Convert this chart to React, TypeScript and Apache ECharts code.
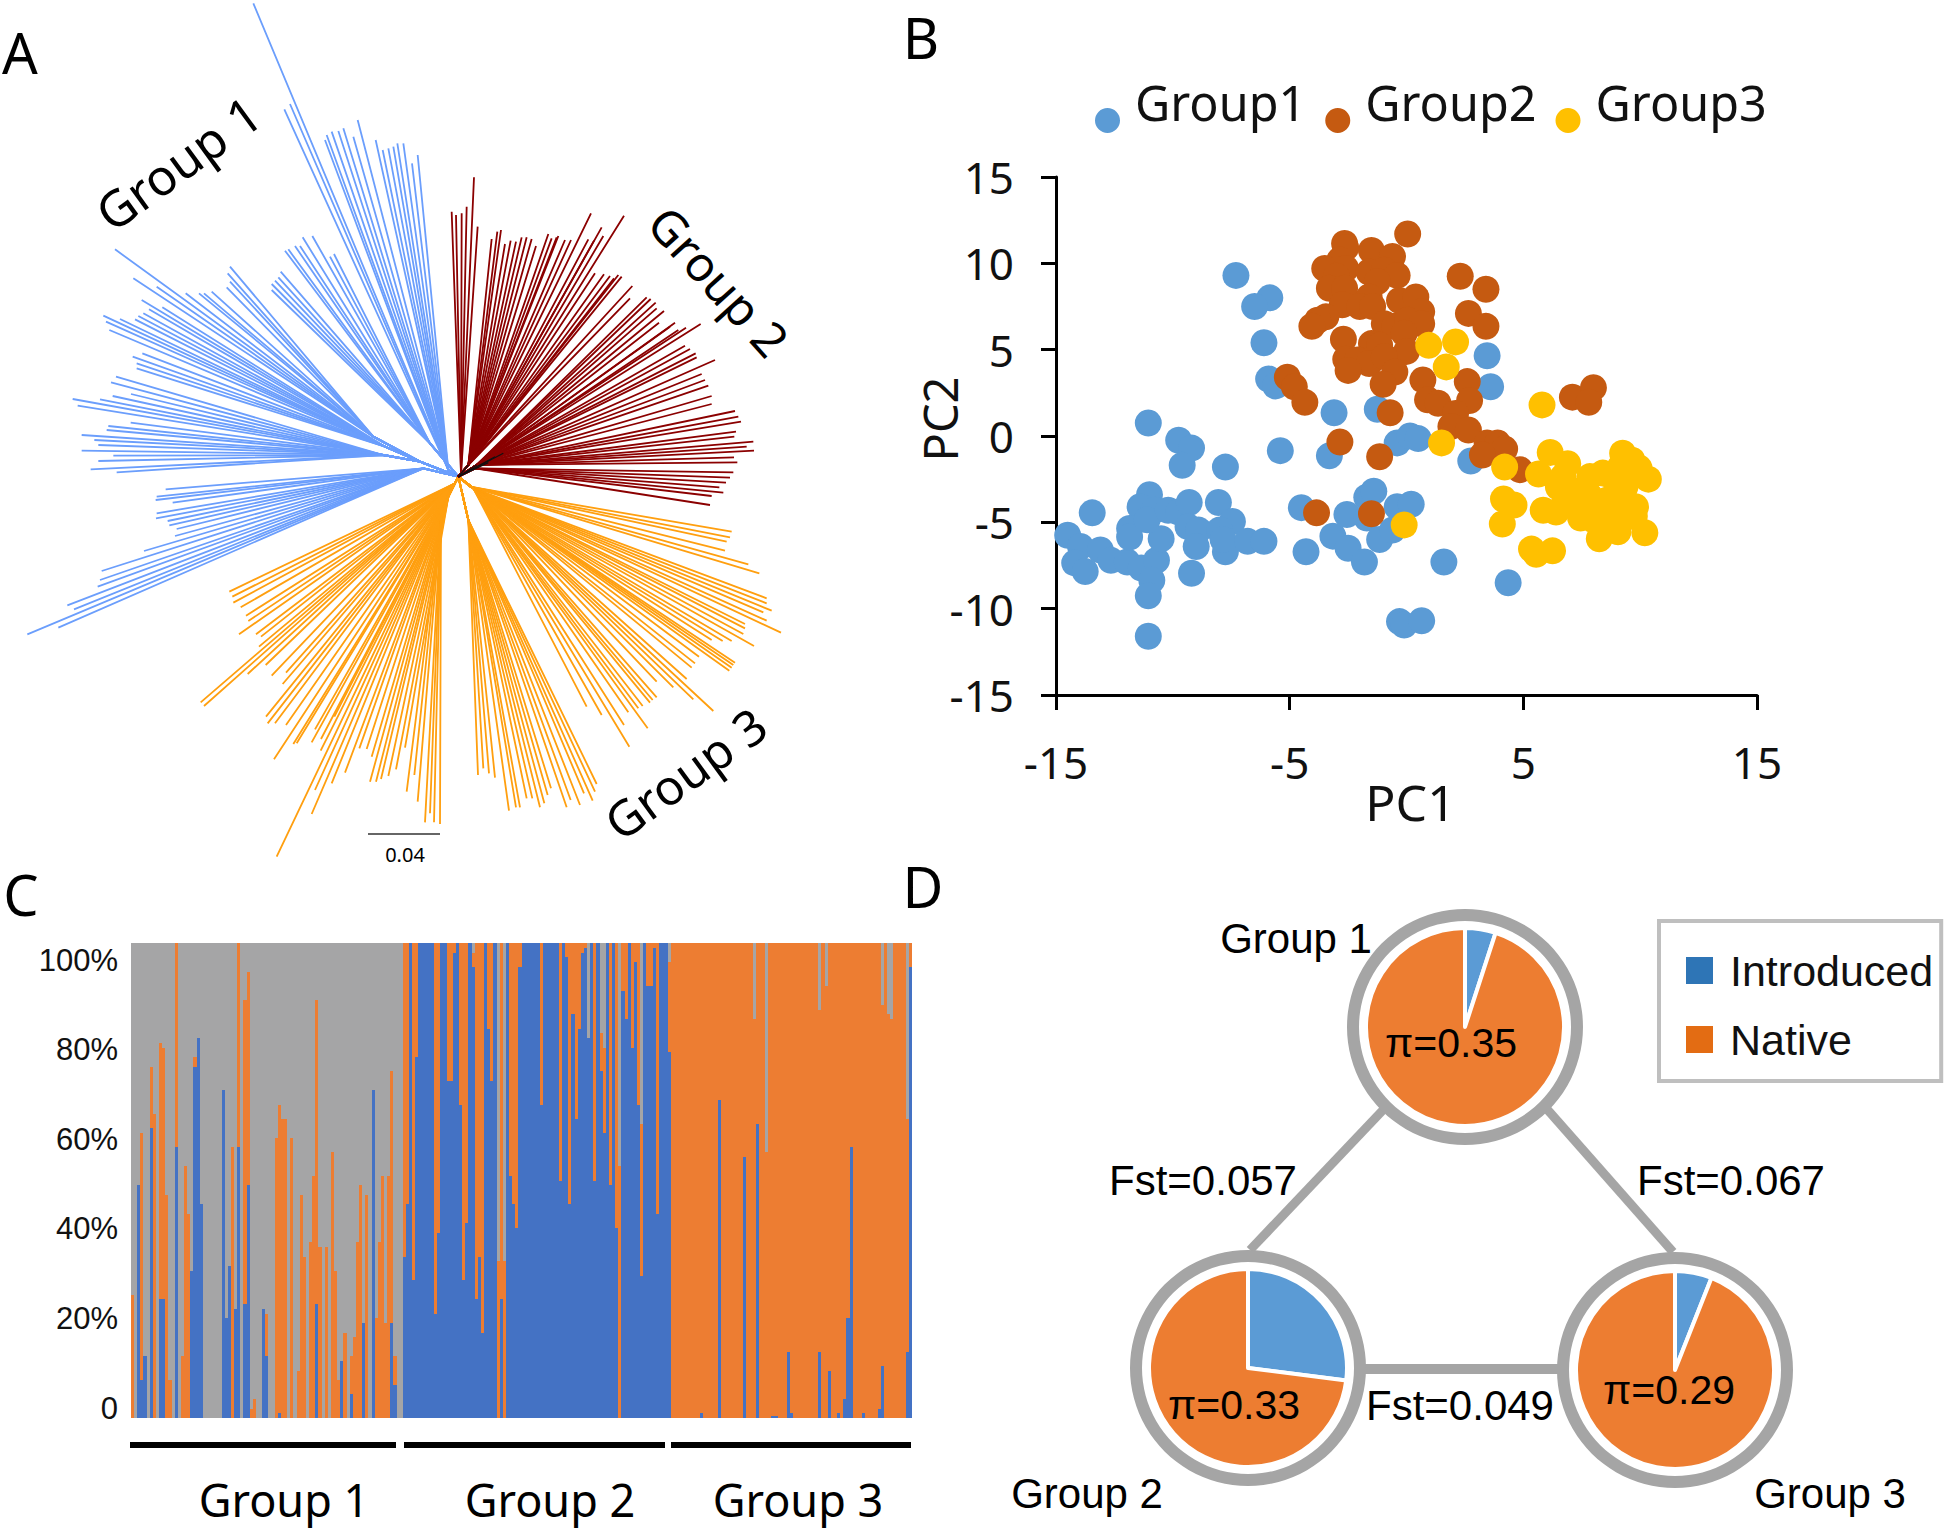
import React, { useEffect, useRef } from "react";
import * as echarts from "echarts";

// ---------- Panel A: unrooted tree. Coordinates are tree-layout units from the root (216 units = 0.04 branch length)
const treeRoot = [0, 0];
const group1Clades = [
  { path: [[-30, -20]], tips: [[-615,-1420],[-505,-1118],[-522,-1102],[-400,-1010],[-395,-1025],[-380,-1035],[-360,-1037],[-345,-1045],[-315,-1020],[-302,-1070],[-248,-1010],[-227,-980],[-210,-985],[-195,-990],[-183,-1000],[-165,-1000],[-139,-940],[-122,-965]] },
  { path: [[-115,-45],[-255,-120]], tips: [[-1030,-682],[-975,-595],[-905,-570],[-818,-550],[-778,-550],[-763,-550],[-740,-555],[-685,-630],[-692,-610],[-685,-585],[-695,-568]] },
  { path: [[-85,-100]], tips: [[-520,-678],[-510,-682],[-490,-692],[-475,-692],[-467,-718],[-438,-722],[-385,-660],[-373,-668],[-533,-615],[-540,-598],[-550,-588],[-560,-578],[-560,-560]] },
  { path: [[-115,-45],[-220,-90]], tips: [[-950,-530],[-1065,-483],[-1057,-465],[-1015,-473],[-1047,-440],[-970,-472],[-960,-482],[-945,-490],[-928,-502],[-888,-508],[-977,-360],[-948,-370],[-965,-340],[-965,-325]] },
  { path: [[-115,-45],[-225,-65]], tips: [[-1027,-300],[-1042,-283],[-1157,-233],[-1142,-213],[-1075,-232],[-1037,-242],[-982,-248],[-1050,-152],[-1055,-140],[-983,-162],[-1130,-125],[-1092,-110],[-1080,-95],[-1130,-78],[-1035,-63],[-1080,-47],[-1103,-22],[-1025,-13]] },
  { path: [[-105,-25]], tips: [[-878,38],[-908,70],[-905,60],[-857,78],[-905,110],[-907,125],[-872,133],[-867,146],[-845,157],[-850,178],[-943,223],[-1070,283],[-1075,310],[-1082,330],[-1173,386],[-1153,398],[-1293,473],[-1200,453]] },
];
const group2Clades = [
  { path: [[8, -10]], tips: [[-20,-795],[-7,-785],[10,-790],[25,-810],[47,-898],[58,-750]] },
  { path: [[30, -35]], tips: [[100,-713],[117,-735],[128,-740],[140,-698],[157,-708],[173,-705],[190,-718],[205,-718],[220,-713],[233,-692],[270,-728],[280,-715],[295,-718],[300,-722],[320,-710],[338,-710],[398,-790],[390,-712],[407,-708],[430,-748],[435,-722],[497,-783],[410,-610],[437,-607],[455,-602],[467,-595],[480,-605],[490,-600],[522,-572],[515,-535]] },
  { path: [[55, -35]], tips: [[565,-538],[577,-533],[592,-522],[595,-505],[617,-497],[602,-462],[635,-450],[650,-462],[660,-440],[683,-447],[727,-458],[680,-393],[695,-383],[712,-370],[715,-358],[770,-350],[730,-308],[740,-290],[750,-273],[760,-242],[760,-218],[830,-197],[840,-180],[848,-165],[833,-135],[828,-120],[885,-105],[865,-90],[887,-78],[827,-58],[837,-43]] },
  { path: [[50, -25]], tips: [[825,-13],[815,3],[803,18],[783,32],[795,48],[760,58],[755,85]] },
];
const group3Clades = [
  { path: [[35, 30]], tips: [[820,165],[815,182],[805,195],[800,222],[870,263],[903,290]] },
  { path: [[45, 35]], tips: [[925,365],[925,380],[940,402],[915,407],[925,432],[968,468],[860,442],[860,455],[855,472],[887,508],[820,493],[793,493],[760,490],[830,558],[825,565],[820,573],[813,582],[722,540],[710,560],[700,573],[685,607],[705,668],[645,632],[765,703],[595,615],[595,662],[583,670],[575,678],[553,688],[540,695],[510,707],[568,755],[497,745],[513,810],[430,715],[385,690]] },
  { path: [[30, 130]], tips: [[415,922],[410,945],[403,972],[377,950],[365,985],[337,970],[325,992],[278,935],[268,955],[258,980],[245,992],[222,965],[205,965],[185,992],[173,992],[152,1002],[110,903],[92,890],[75,875],[59,895]] },
  { path: [[-10, 20]], tips: [[-687,345],[-678,360],[-675,378],[-653,392],[-637,417],[-630,433],[-658,473],[-607,473],[-592,480],[-598,510],[-773,677],[-763,688],[-632,592],[-578,565],[-560,597],[-517,588],[-527,622],[-577,720],[-550,740],[-572,740],[-517,745],[-553,848],[-495,802],[-485,800],[-430,758],[-412,787],[-440,797],[-372,720]] },
  { path: [[-30, 60]], tips: [[-413,822],[-297,815],[-275,817],[-260,840],[-160,813],[-265,915],[-247,915],[-232,907],[-210,898],[-187,878],[-340,888],[-380,920],[-430,940],[-440,1012],[-545,1140]] },
  { path: [[-30, 60],[-52, 125]], tips: [[-155,945],[-132,895],[-122,975],[-100,1037],[-85,1010],[-73,1037],[-55,1042]] },
];
const blackStems = [
  { path: [], tips: [[30,-35],[55,-35],[135,-70],[110,-60],[90,-42]] },
];

// ---------- Panel B: PCA
const pcGroup1 = [[-7.3,9.3],[-5.85,8],[-6.5,7.5],[-6.1,5.4],[-5.9,3.3],[-5.6,2.9],[-3.1,1.35],[-1.25,1.55],[-11.05,0.75],[-9.75,-0.25],[-9.2,-0.7],[-9.6,-1.7],[-7.75,-1.8],[-5.4,-0.85],[-3.3,-1.15],[-0.4,-0.4],[0.15,0],[0.5,-0.15],[2.75,-1.45],[3.45,4.65],[3.6,2.85],[-13.45,-4.45],[-14.5,-5.75],[-13.95,-6.4],[-14.2,-7.35],[-13.75,-7.85],[-13.1,-6.6],[-12.65,-7.2],[-11.95,-7.3],[-11.35,-7.65],[-10.7,-7.2],[-10.9,-8.35],[-11.05,-9.25],[-11.05,-11.6],[-9.2,-7.95],[-11,-3.4],[-11.4,-4.1],[-10.8,-4.3],[-11.85,-5.35],[-11.85,-5.85],[-10.5,-5.95],[-11.1,-4.85],[-10.2,-4.3],[-9.75,-4.4],[-9.3,-3.85],[-9.35,-5.25],[-8.9,-5.45],[-9,-6.4],[-8.05,-3.85],[-7.45,-4.95],[-8,-5.45],[-7.75,-6.7],[-7.85,-6],[-6.8,-6.1],[-6.1,-6.1],[-4.5,-4.15],[-4.3,-6.7],[-3.15,-5.8],[-2.55,-4.55],[-2.5,-6.5],[-1.8,-7.3],[-1.7,-4.75],[-1.7,-3.55],[-1.4,-3.2],[-1.15,-6],[-0.6,-5.45],[-0.4,-4.1],[0.2,-3.95],[1.6,-7.3],[4.35,-8.5],[-0.3,-10.75],[-0.1,-10.95],[0.65,-10.7]];
const pcGroup2 = [[0.05,11.7],[-2.65,11.15],[-1.5,10.75],[-0.6,10.4],[-2.6,10.9],[-2.85,10.2],[-3.5,9.7],[-2.6,9.7],[-3,9.25],[-1.6,9.5],[-0.95,9.6],[-0.4,9.3],[-1.25,8.95],[-3.3,8.55],[-2.65,8.55],[2.3,9.25],[3.4,8.5],[-1.6,8.05],[-0.3,7.85],[0.4,8.05],[-2.75,7.6],[-2,7.5],[-1.45,7.5],[0.65,7.2],[-3.45,6.9],[-3.8,6.7],[-4.05,6.35],[-0.95,6.5],[-0.5,6.35],[0.05,6.7],[0.65,6.5],[2.65,7.1],[3.4,6.35],[-2.7,5.6],[-0.1,5.95],[-1.5,5.35],[-1.15,5.25],[0,4.9],[-2.6,4.45],[-2.1,4.4],[-1.6,4.2],[-0.95,4.6],[-2.5,3.8],[-0.5,3.7],[-1,3],[0.7,3.25],[-5.1,3.4],[-4.8,2.85],[-4.35,1.95],[2.6,3.15],[0.9,2.1],[1.35,1.9],[2.7,2.05],[2.1,1.3],[1.9,0.55],[2.65,0.35],[-0.7,1.35],[-2.85,-0.35],[-1.15,-1.2],[3.45,-0.4],[3.9,-0.4],[4.2,-0.75],[3.25,-1.1],[4.85,-1.95],[-3.85,-4.45],[-1.5,-4.5],[7.1,2.25],[8,2.8],[7.8,1.95]];
const pcGroup3 = [[0.95,5.25],[2.1,5.45],[1.7,4],[5.8,1.8],[1.5,-0.4],[-0.1,-5.15],[4.2,-1.8],[4.15,-3.65],[4.6,-4],[4.1,-5.1],[5.35,-6.55],[5.55,-6.85],[6.25,-6.65],[6.15,-0.95],[6.9,-1.6],[5.65,-2.2],[6.5,-2.95],[5.85,-4.3],[6.4,-4.4],[7.45,-3.15],[7.45,-4.75],[7.85,-3.5],[8.4,-2.15],[9.25,-1],[9.65,-1.4],[9.95,-1.85],[10.35,-2.5],[8.8,-2.35],[9.35,-2.95],[8.25,-5.95],[9.05,-5.55],[10.2,-5.6],[9.8,-4.1],[9.75,-4.65],[8.6,-3.7],[8.2,-4.3],[9,-4.3],[9.35,-3.9],[7.25,-3.9],[6.8,-3.9],[8,-4.85],[8.8,-5.05],[9.55,-4.65],[7.85,-2.35],[9.15,-1.8],[6.7,-2.35]];
const pcXTicks = [-15, -5, 5, 15];

// ---------- Panel C: ancestry per individual (share of blue cluster, and blue + orange cumulative share)
const g1Blue = [0,0,49,8,13,0,61,0,0,25,25,0,0,0,57,0,0,0,0,31,74,80,45,0,0,0,0,0,0,69,21,32,0,23,57,0,24,49,0,0,0,0,23,13,0,0,0,1,0,0,0,0,0,0,0,0,0,0,0,24,0,0,0,0,0,0,0,12,0,0,5,0,0,0,20,0,0,69,0,0,0,0,0,20,7,0,0];
const g1Top = [26,0,49,60,13,0,74,64,0,79,78,47,8,0,100,0,13,53,43,31,76,80,45,0,0,0,0,0,0,69,21,32,57,23,100,0,88,94,2,4,0,0,23,22,0,0,59,66,63,63,0,59,0,10,47,34,0,37,51,88,36,0,36,0,56,31,8,12,18,0,13,17,37,49,20,47,0,69,21,37,51,20,51,73,13,0,0];
const g2Blue = [34,45,100,29,76,100,100,100,100,100,22,39,100,100,71,71,98,100,66,29,41,100,95,25,34,18,100,82,71,100,0,25,0,100,51,45,40,95,100,100,100,100,100,100,66,100,100,100,100,100,50,100,97,45,85,63,82,98,99,80,100,50,100,73,60,100,49,100,40,0,90,84,100,78,96,66,30,100,91,91,99,43,100,100,100,77];
const g2Top = [100,100,100,100,100,100,100,100,100,100,100,100,100,100,100,100,100,100,100,100,100,100,98,100,100,100,100,100,100,100,33,100,33,100,100,100,100,100,100,100,100,100,100,100,100,100,100,100,100,100,100,100,100,100,100,100,100,100,100,80,100,100,100,81,78,100,100,100,100,53,100,100,100,100,100,100,62,100,100,100,100,100,100,100,100,96];
const g3Blue = [0,0,0,0,0,0,0,0,0,1,0,0,0,0,0,67,0,0,0,0,0,0,0,55,0,0,0,62,0,0,0,0,0.4,0.4,0,0,0,14,1,0,0,0,0,0,0,0,0,14,0,0,10,0,0,1,0,4,21,57,0,0,0,1,0,0,0,0,2,11,0,0,0,0,0,0,0,14,95];
const g3Top = [100,100,100,100,100,100,100,100,100,100,100,100,100,100,100,100,100,100,100,100,100,100,100,100,100,100,84,100,100,100,56,100,100,100,100,100,100,100,100,100,100,100,100,100,100,100,100,86,100,91,100,100,100,100,100,100,100,100,100,100,100,100,100,100,100,100,100,87,100,85,84,100,100,100,100,63,100];

// ---------- Panel D
const introducedNative = [
  { group: "Group 1", introduced: 5, native: 95, pi: "π=0.35" },
  { group: "Group 2", introduced: 27, native: 73, pi: "π=0.33" },
  { group: "Group 3", introduced: 6, native: 94, pi: "π=0.29" },
];

const BLUE_TREE = "#6b9efc";
const RED_TREE = "#8b0000";
const ORANGE_TREE = "#ff9f0f";
const BAR_BLUE = "#4472c4";
const BAR_ORANGE = "#ed7d32";
const BAR_GRAY = "#a5a5a6";
const SANS = "'Noto Sans', sans-serif";
const ARIAL = "'Liberation Sans', Arial, sans-serif";
// legend glyphs carry an empty part so that the mark sits off-centre from its label, as drawn in the reference
const OFFSET_DOT = "path://M12.5 0L12.5 0.01M35 0L35 0.01M0 50.5A12.5 12.5 0 1 0 25 50.5A12.5 12.5 0 1 0 0 50.5Z";
const OFFSET_SQUARE = "path://M0 0H27V27H0ZM39 0L39 0.01";
// adjacent one-pixel-wide columns must not show anti-aliased seams
const CRISP_BARS = `path[fill="${BAR_BLUE}"],path[fill="${BAR_ORANGE}"],path[fill="${BAR_GRAY}"]{shape-rendering:crispEdges}`;

function treeSeries(name: string, clades: any[], color: string, width: number) {
  const rows: number[][] = [];
  clades.forEach((c) => {
    c.tips.forEach((t: number[]) => {
      const p0 = c.path[0] || t;
      const p1 = c.path[1] || p0;
      rows.push([p0[0], p0[1], p1[0], p1[1], t[0], t[1]]);
    });
  });
  return {
    name,
    type: "custom",
    xAxisIndex: 0,
    yAxisIndex: 0,
    silent: true,
    clip: false,
    data: rows,
    renderItem: (_: any, api: any) => {
      const pts = [
        api.coord(treeRoot),
        api.coord([api.value(0), api.value(1)]),
        api.coord([api.value(2), api.value(3)]),
        api.coord([api.value(4), api.value(5)]),
      ];
      return {
        type: "polyline",
        shape: { points: pts },
        style: { stroke: color, fill: "none", lineWidth: width, lineJoin: "round", lineCap: "butt" },
      };
    },
  };
}

function label(text: string, x: number, y: number, fontSize: number, family: string, rotationDeg = 0) {
  return {
    type: "text",
    x,
    y,
    rotation: (rotationDeg * Math.PI) / 180,
    z: 10,
    style: { text, x: 0, y: 0, align: "center", verticalAlign: "middle", fontSize, fontFamily: family, fill: "#000" },
  };
}

function pieSeries(i: number, center: number[]) {
  const d = introducedNative[i];
  return [
    {
      name: d.group + " ring",
      type: "pie",
      silent: true,
      center,
      radius: [106, 118],
      label: { show: false },
      labelLine: { show: false },
      itemStyle: { color: "#a5a5a5" },
      data: [{ name: d.group + " ring", value: 1 }],
    },
    {
      name: d.group,
      type: "pie",
      silent: true,
      center,
      radius: [0, 99],
      startAngle: 90,
      clockwise: true,
      label: { show: false },
      labelLine: { show: false },
      itemStyle: { borderColor: "#fff", borderWidth: 4 },
      data: [
        { name: "Introduced", value: d.introduced, itemStyle: { color: "#5b9bd5" } },
        { name: "Native", value: d.native, itemStyle: { color: "#ed7d31" } },
      ],
    },
  ];
}

export default function App() {
  const ref = useRef<HTMLDivElement>(null);
  useEffect(() => {
    document.body.style.margin = "0";
    const chart = echarts.init(ref.current!, undefined, { renderer: "svg" });
    const blue = [...g1Blue, ...g2Blue, ...g3Blue];
    const top = [...g1Top, ...g2Top, ...g3Top];
    const orange = top.map((v, i) => Math.max(0, v - blue[i]));
    const gray = top.map((v) => 100 - v);
    const cats = blue.map((_, i) => String(i + 1));
    const barSeries = (name: string, data: number[], color: string) => ({
      name,
      type: "bar",
      stack: "ancestry",
      xAxisIndex: 2,
      yAxisIndex: 2,
      silent: true,
      barCategoryGap: 0,
      barWidth: "100%",
      itemStyle: { color },
      data: data.map((v) => (v > 0 ? v : null)),
    });
    const lineStyle = { stroke: "#a5a5a5", lineWidth: 9 };

    const option: any = {
      animation: false,
      backgroundColor: "#fff",
      tooltip: { show: false },
      legend: [
        {
          data: ["Group1", "Group2", "Group3"],
          left: 1095,
          top: 70,
          padding: 0,
          itemWidth: 35,
          itemHeight: 63,
          itemGap: 19,
          icon: OFFSET_DOT,
          selectedMode: false,
          textStyle: { fontFamily: SANS, fontSize: 48.5, color: "#111" },
        },
        {
          data: [
            { name: "Introduced", itemStyle: { color: "#2e75b6", borderWidth: 0 } },
            { name: "Native", itemStyle: { color: "#e36c13", borderWidth: 0 } },
          ],
          left: 1659,
          top: 921,
          orient: "vertical",
          padding: [28, 8, 20, 27],
          itemWidth: 39,
          itemHeight: 27,
          itemGap: 26,
          icon: OFFSET_SQUARE,
          borderColor: "#bfbfbf",
          borderWidth: 4,
          selectedMode: false,
          textStyle: { fontFamily: ARIAL, fontSize: 43, color: "#111" },
        },
      ],
      grid: [
        { left: 0, top: 0, width: 800, height: 870, containLabel: false },
        { left: 1056, top: 177, width: 701, height: 518 },
        { left: 131, top: 943, width: 781, height: 475 },
        { left: 131, top: 960, width: 781, height: 448 },
      ],
      xAxis: [
        { gridIndex: 0, type: "value", min: -1375, max: 1025, show: false },
        {
          gridIndex: 1,
          type: "value",
          min: -15,
          max: 15,
          position: "bottom",
          name: "PC1",
          nameLocation: "middle",
          nameMoveOverlap: false,
          nameGap: 82,
          nameTextStyle: { fontFamily: SANS, fontSize: 50, color: "#111", padding: [0, 0, 0, 8] },
          axisLine: { onZero: false, lineStyle: { color: "#000", width: 3 } },
          axisTick: { show: true, length: 15, customValues: pcXTicks, lineStyle: { color: "#000", width: 3 } },
          axisLabel: { customValues: pcXTicks, margin: 45, fontFamily: SANS, fontSize: 44, color: "#111" },
          splitLine: { show: false },
        },
        { gridIndex: 2, type: "category", data: cats, show: false },
        { gridIndex: 3, type: "value", min: 0, max: 1, show: false },
      ],
      yAxis: [
        { gridIndex: 0, type: "value", inverse: true, min: -1430, max: 1180, show: false },
        {
          gridIndex: 1,
          type: "value",
          min: -15,
          max: 15,
          interval: 5,
          name: "PC2",
          nameLocation: "middle",
          nameMoveOverlap: false,
          nameGap: 93,
          nameTextStyle: { fontFamily: SANS, fontSize: 47, color: "#111", padding: [0, 0, 0, 34] },
          axisLine: { onZero: false, lineStyle: { color: "#000", width: 3 } },
          axisTick: { show: true, length: 15, lineStyle: { color: "#000", width: 3 } },
          axisLabel: { margin: 42, fontFamily: SANS, fontSize: 44, color: "#111" },
          splitLine: { show: false },
        },
        { gridIndex: 2, type: "value", min: 0, max: 100, show: false },
        {
          gridIndex: 3,
          type: "value",
          min: 0,
          max: 100,
          interval: 20,
          axisLine: { show: false },
          axisTick: { show: false },
          splitLine: { show: false },
          axisLabel: {
            margin: 13,
            fontFamily: ARIAL,
            fontSize: 31,
            color: "#111",
            formatter: (v: number) => (v === 0 ? "0" : v + "%"),
          },
        },
      ],
      series: [
        treeSeries("tree group 1", group1Clades, BLUE_TREE, 1.8),
        treeSeries("tree group 3", group3Clades, ORANGE_TREE, 1.8),
        treeSeries("tree group 2", group2Clades, RED_TREE, 1.8),
        treeSeries("tree stems", blackStems, "#111", 1.2),
        ...[
          ["Group1", pcGroup1, "#5b9bd5"],
          ["Group2", pcGroup2, "#c55a11"],
          ["Group3", pcGroup3, "#ffc000"],
        ].map(([name, data, color]: any) => ({
          name,
          type: "scatter",
          xAxisIndex: 1,
          yAxisIndex: 1,
          symbol: "circle",
          symbolSize: 27,
          silent: true,
          itemStyle: { color, opacity: 1 },
          data,
        })),
        barSeries("Blue cluster", blue, BAR_BLUE),
        barSeries("Orange cluster", orange, BAR_ORANGE),
        barSeries("Gray cluster", gray, BAR_GRAY),
        ...pieSeries(0, [1465, 1027]),
        ...pieSeries(1, [1248, 1368]),
        ...pieSeries(2, [1675, 1370]),
      ],
      graphic: [
        label("A", 20, 52, 56, SANS),
        label("B", 921, 37, 56, SANS),
        label("C", 21, 894, 56, SANS),
        label("D", 923, 886, 56, SANS),
        label("Group 1", 178, 163, 50, SANS, 36),
        label("Group 2", 719, 281, 48, SANS, -48),
        label("Group 3", 685, 773, 49, SANS, 36),
        { type: "line", shape: { x1: 368, y1: 834, x2: 440, y2: 834 }, style: { stroke: "#333", lineWidth: 1.5 } },
        label("0.04", 405, 854, 20, SANS),
        { type: "rect", shape: { x: 130, y: 1442, width: 266, height: 6 }, style: { fill: "#000" } },
        { type: "rect", shape: { x: 404, y: 1442, width: 261, height: 6 }, style: { fill: "#000" } },
        { type: "rect", shape: { x: 671, y: 1442, width: 240, height: 6 }, style: { fill: "#000" } },
        label("Group 1", 284, 1499, 45, SANS),
        label("Group 2", 550, 1499, 45, SANS),
        label("Group 3", 798, 1499, 45, SANS),
        { type: "line", shape: { x1: 1383, y1: 1110, x2: 1250, y2: 1250 }, style: lineStyle },
        { type: "line", shape: { x1: 1546, y1: 1108, x2: 1673, y2: 1252 }, style: lineStyle },
        { type: "line", shape: { x1: 1365, y1: 1369, x2: 1560, y2: 1369 }, style: { ...lineStyle, lineWidth: 10 } },
        label("Group 1", 1296, 938, 42, ARIAL),
        label("Group 2", 1087, 1493, 42, ARIAL),
        label("Group 3", 1830, 1493, 42, ARIAL),
        label("Fst=0.057", 1203, 1180, 42, ARIAL),
        label("Fst=0.067", 1731, 1180, 42, ARIAL),
        label("Fst=0.049", 1460, 1405, 42, ARIAL),
        label(introducedNative[0].pi, 1451, 1043, 41, ARIAL),
        label(introducedNative[1].pi, 1234, 1405, 41, ARIAL),
        label(introducedNative[2].pi, 1669, 1390, 41, ARIAL),
      ],
    };
    chart.setOption(option);
    return () => chart.dispose();
  }, []);
  return (
    <>
      <style>{CRISP_BARS}</style>
      <div ref={ref} style={{ position: "absolute", left: 0, top: 0, width: 1946, height: 1528 }} />
    </>
  );
}
